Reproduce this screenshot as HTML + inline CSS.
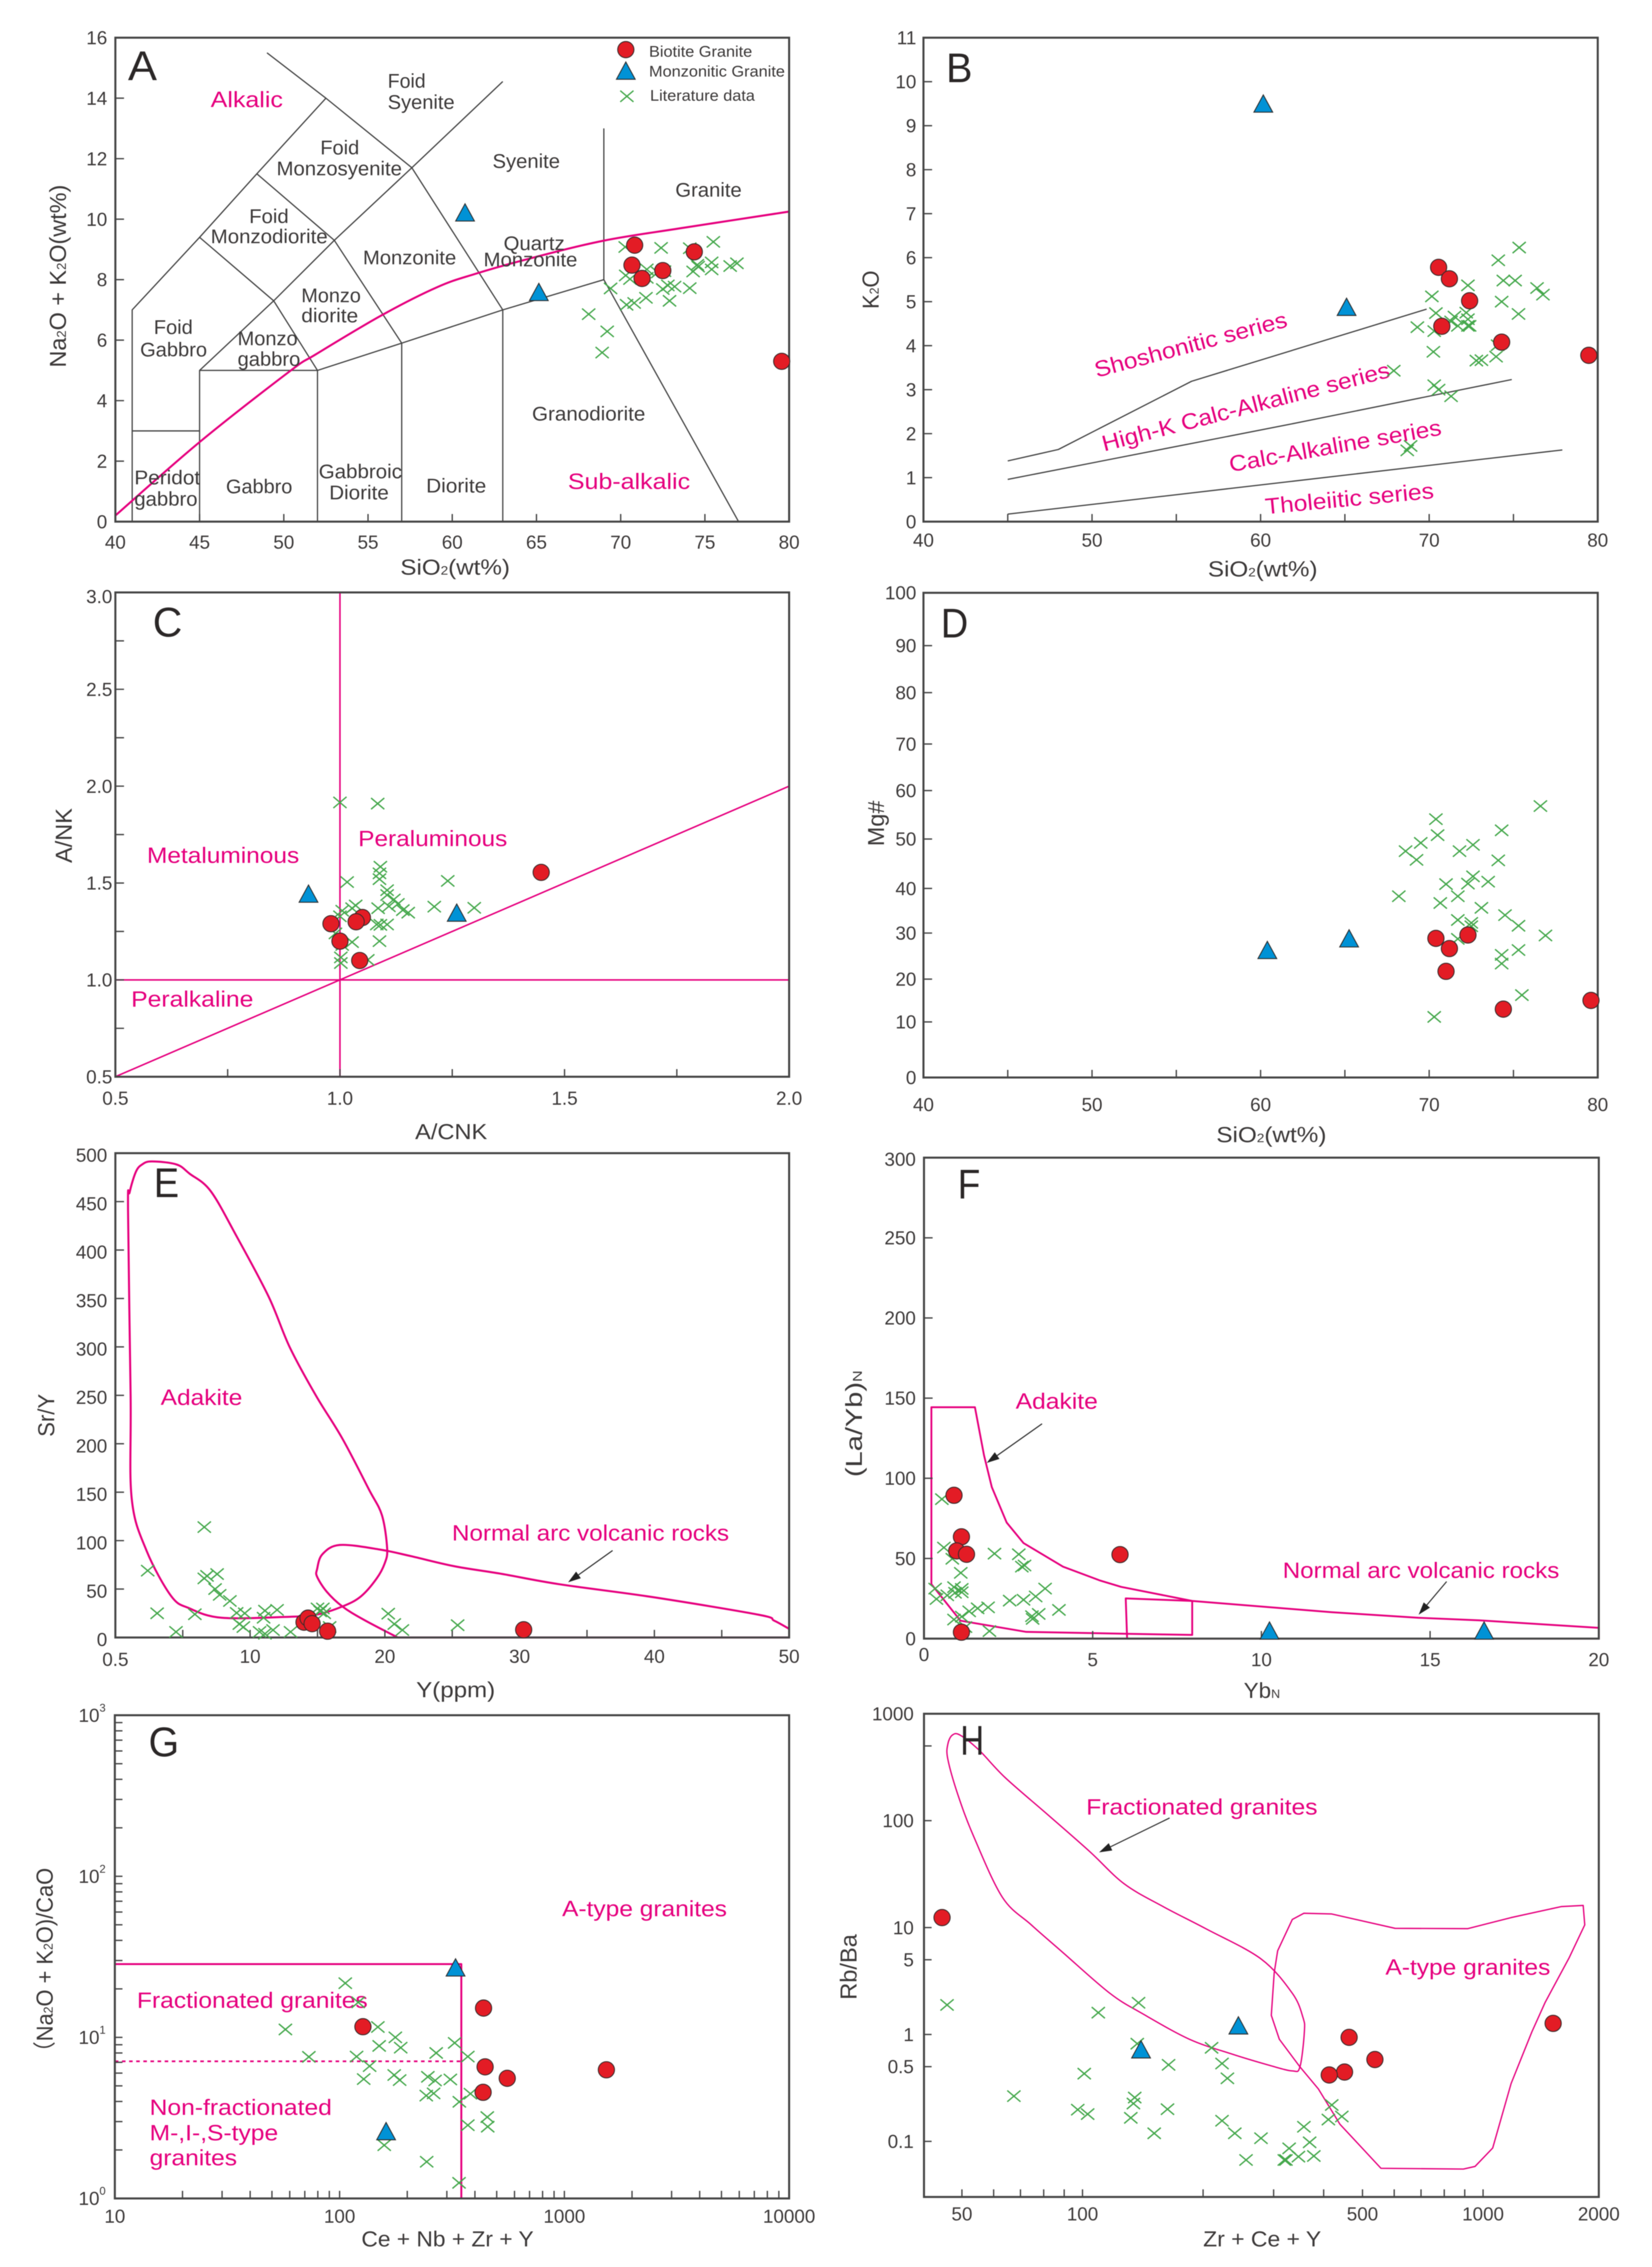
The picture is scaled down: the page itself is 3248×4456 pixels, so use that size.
<!DOCTYPE html>
<html lang="en">
<head>
<meta charset="utf-8">
<title>Granite geochemical discrimination diagrams A-H</title>
<style>
html,body{margin:0;padding:0;background:#fff;}
#figure{display:block;width:3248px;height:4456px;background:#fff;font-family:"Liberation Sans",Arial,sans-serif;filter:blur(0.7px);}
</style>
</head>
<body>
<svg id="figure" xmlns="http://www.w3.org/2000/svg" width="3248" height="4456" viewBox="0 0 3248 4456"></svg>
<script>
/* ---------- Panel A: TAS ---------- */
const aLit=[[70.27,9.08],[72.4,9.05],[74.1,9.04],[75.5,9.25],[74.55,8.49],[75.4,8.57],[75.4,8.34],[76.5,8.45],[76.9,8.54],[74.3,8.27],[74.6,8.43],[71.55,8.34],[72.6,8.28],[72.2,8.24],[70.3,8.14],[70.55,8.02],[71.55,8.06],[69.4,7.71],[72.5,7.69],[72.8,7.81],[73.2,7.77],[74.1,7.72],[70.35,7.17],[70.8,7.23],[71.5,7.4],[72.9,7.3],[68.1,6.86],[69.2,6.29],[68.9,5.59]];
const aBiotite=[[70.83,9.14],[70.67,8.48],[71.27,8.04],[72.5,8.3],[74.37,8.92],[79.56,5.3]];
const aMonzo=[[60.76,10.19],[65.14,7.56]];
const aAlkalineCurve=[[40,0.2],[45,2.63],[50.35,4.97],[51.9,5.53],[55.8,6.82],[59.1,7.75],[61.3,8.18],[64.4,8.67],[69,9.29],[73.8,9.72],[80,10.25]];
const aFields=[[[41,0],[41,7],[45,9.4],[48.4,11.5],[52.5,14],[49,15.5]],[[52.5,14],[57.6,11.7],[63,14.55]],[[41,3],[45,3]],[[45,0],[45,5],[52,5],[57,5.9],[63,7],[69,8],[69,13]],[[52,0],[52,5]],[[57,0],[57,5.9]],[[63,0],[63,7]],[[69,8],[77,0]],[[45,5],[49.4,7.3],[53,9.3],[57.6,11.7],[63,7]],[[49.4,7.3],[52,5]],[[45,9.4],[49.4,7.3]],[[48.4,11.5],[53,9.3],[57,5.9]]];
const aXTicks=[45,50,55,60,65,70,75];
const aXLabels=[40,45,50,55,60,65,70,75,80];
const aYTicks=[2,4,6,8,10,12,14];
const aYLabels=[0,2,4,6,8,10,12,14,16];

/* ---------- Panel B: K2O-SiO2 ---------- */
const bLit=[[75.34,6.23],[74.1,5.94],[72.3,5.37],[74.4,5.48],[75.1,5.48],[76.4,5.31],[76.75,5.16],[70.16,5.12],[74.3,5.0],[75.3,4.72],[70.4,4.74],[71.5,4.66],[72.2,4.75],[72.3,4.6],[71.3,4.55],[71.7,4.45],[72.3,4.45],[72.4,4.45],[69.3,4.42],[70.3,4.33],[70.25,3.86],[74.06,4.01],[73.97,3.75],[72.8,3.66],[73.1,3.67],[67.9,3.43],[70.3,3.1],[70.56,3.0],[71.3,2.85],[68.9,1.72],[68.7,1.62]];
const bBiotite=[[70.56,5.78],[71.2,5.52],[72.4,5.02],[70.75,4.44],[74.3,4.08],[79.47,3.78]];
const bMonzo=[[60.16,9.48],[65.1,4.86]];
const bSeriesLines=[[[45,1.38],[48,1.64],[55.9,3.19],[69.85,4.83]],[[45,0.96],[61.56,2.2],[74.9,3.23]],[[45,0.17],[56.1,0.66],[77.9,1.63]]];
const bXTicks=[45,50,55,60,65,70,75];
const bXLabels=[40,50,60,70,80];
const bYTicks=[1,2,3,4,5,6,7,8,9,10];
const bYLabels=[0,1,2,3,4,5,6,7,8,9,10,11];

/* ---------- Panel C: A/NK-A/CNK ---------- */
const cLit=[[1.0,1.916],[1.084,1.91],[1.016,1.505],[1.09,1.584],[1.088,1.55],[1.088,1.52],[1.105,1.463],[1.105,1.438],[1.24,1.511],[1.12,1.415],[1.109,1.38],[1.129,1.392],[1.085,1.37],[1.035,1.384],[1.027,1.37],[1.005,1.357],[1.14,1.36],[1.152,1.347],[1.21,1.378],[1.299,1.372],[1.0,1.328],[1.082,1.286],[1.105,1.286],[1.09,1.284],[1.088,1.2],[0.99,1.24],[1.027,1.195],[1.005,1.18],[1.002,1.116],[1.002,1.087],[1.062,1.103]];
const cBiotite=[[1.448,1.555],[1.05,1.322],[1.036,1.3],[0.98,1.29],[1.0,1.2],[1.044,1.1]];
const cMonzo=[[0.93,1.44],[1.26,1.342]];
const cDividers=[[[1,0.5],[1,3]],[[0.5,1],[2,1]],[[0.5,0.5],[2,2]]];
const cTicks=[0.75,1,1.25,1.5,1.75];
const cYTicks=[0.75,1,1.25,1.5,1.75,2,2.25,2.5,2.75];
const cXLabels=[0.5,1,1.5,2];
const cYLabels=[0.5,1,1.5,2,2.5,3];

/* ---------- Panel D: Mg#-SiO2 ---------- */
const dLit=[[76.6,56],[70.4,53.3],[74.3,51],[70.5,50],[69.5,48.4],[68.6,46.7],[72.6,48],[71.8,46.7],[69.25,44.9],[74.1,44.8],[72.6,41.5],[73.5,40.4],[72.3,40],[71,39.9],[68.2,37.4],[71.7,37.4],[70.66,36],[73.1,35],[74.5,33.5],[71.7,32.5],[72.5,31.9],[72.5,31.2],[75.3,31.3],[76.9,29.3],[71.7,28.6],[75.3,26.3],[74.3,25.3],[74.3,23.5],[75.5,17],[70.3,12.5]];
const dBiotite=[[70.4,28.7],[72.3,29.4],[71.2,26.6],[71,21.9],[74.4,14.1],[79.6,15.9]];
const dMonzo=[[60.4,26.1],[65.25,28.5]];
const dXTicks=[45,50,55,60,65,70,75];
const dXLabels=[40,50,60,70,80];
const dYTicks=[11.47,20.3,29.8,39,49.2,59.2,68.8,79.4,89.1];
const dYLabelAt=[0,11.47,20.3,29.8,39,49.2,59.2,68.8,79.4,89.1,100];
const dYLabelText=['0','10','20','30','40','50','60','70','80','90','100'];

/* ---------- Panel E: Sr/Y-Y ---------- */
const eLit=[[6.6,114],[2.4,69],[6.8,63.6],[7.55,65.5],[6.6,61],[7.4,50],[7.74,44],[8.5,37.7],[3.1,25],[5.9,24],[4.5,5.8],[9,25.4],[9.6,25],[11.1,27.7],[12,28.5],[11,20.4],[9.2,13.9],[9.5,10.8],[10.7,5.8],[11.7,7.7],[11.1,3.9],[13,5.8],[15,30],[15.4,30],[15.2,27],[15.5,25],[15.9,10.8],[20.25,24.6],[20.7,13.9],[21.3,7.7],[25.4,12.7]];
const eBiotite=[[14,15.8],[14.3,20],[14.6,14.3],[15.75,6.5],[30.3,8]];
const eAdakite=[[2.7,491.5],[4.53,488.4],[5.51,478.8],[7.08,460.7],[9.03,413.3],[11.38,351.7],[12.94,299.7],[14.89,249.6],[16.85,205.3],[18.8,153.3],[19.78,126.3],[20.17,91.7],[19.98,76.3],[19.39,60.9],[18.22,42.4],[16.85,32],[14.89,23.5],[12.55,21.2],[7.86,20.4],[5.51,30],[4.14,42.8],[2.31,89.8],[1.21,143.7],[1.13,249.6],[0.94,442.2],[1.06,459.6],[1.52,480.7],[1.99,488.4]];
const eArcUpper=[[20.95,0],[18.41,18.5],[16.85,32],[15.68,47.4],[14.97,62.8],[14.97,70.5],[15.36,85.9],[16.65,95.5],[19.59,90.9],[21.93,84],[25.14,73.6],[28.58,65.9],[32.88,55.1],[39.91,41.6],[47.73,23.5],[48.9,17.3],[50,8.9]];
const eArcBase=[[50,8.9],[50,0],[20.95,0]];
const eXTicks=[5,10,15,20,25,30,35,40,45];
const eXLabelAt=[0,10,20,30,40,50];
const eXLabelText=['0.5','10','20','30','40','50'];
const eYTicks=[50,100,150,200,250,300,350,400,450];
const eYLabels=[0,50,100,150,200,250,300,350,400,450,500];

/* ---------- Panel F: (La/Yb)N-YbN ---------- */
const fLit=[[0.53,87],[0.59,56.8],[0.84,49.8],[2.09,53],[2.81,52.6],[2.98,45.6],[2.9,44.9],[1.09,41],[0.33,31.2],[0.37,24.7],[0.69,27],[0.89,32.1],[0.92,28.6],[1.12,31],[1.12,28.9],[2.54,23.7],[2.95,24.2],[3.31,26.3],[3.59,31.2],[4,17.9],[3.4,15.4],[3.22,12.3],[3.2,14],[1.9,19.5],[1.59,18.9],[1.34,17],[1.12,13.7],[0.89,11.9],[1.23,7.2],[1.94,4.7]];
const fBiotite=[[0.89,89.4],[1.11,63.5],[0.97,54.7],[1.26,52.6],[5.81,52.4],[1.11,4]];
const fMonzo=[[10.24,4.4],[16.6,4.4]];
const fAdakite=[[0.22,34],[0.22,144.3],[1.51,144.3],[1.78,114.3],[2.01,94.5],[2.45,72.4],[2.95,59.6],[4.12,44.9],[5.21,36.3],[5.84,32.3],[7.95,23.5],[7.95,2.3],[6.07,3],[3.03,4.2],[1.08,11.2]];
const fArc=[[7.95,23.5],[12.08,16.5],[14.66,13],[16.46,11.4],[20,6.7],[20,0],[6.02,0],[5.98,25.1]];
const fXTicks=[5,10,15];
const fXLabels=[0,5,10,15,20];
const fYTicks=[50,100,150,200,250];
const fYLabels=[0,50,100,150,200,250,300];

/* ---------- Panel G: log-log ---------- */
const gLit=[[106,21.7],[121,16.5],[57.4,11.2],[148,11.6],[177,10],[150,8.85],[187,8.63],[269,8.0],[325,9.24],[73,7.57],[119,7.6],[372,7.6],[136,6.63],[128,5.51],[175,5.84],[185,5.43],[247,5.69],[266,5.4],[311,5.48],[243,4.35],[262,4.49],[341,3.98],[382,4.47],[372,2.85],[454,3.2],[456,2.79],[158,2.14],[244,1.69],[340,1.25]];
const gBiotite=[[127,11.65],[437,15.2],[444,6.56],[557,5.57],[435,4.56],[1538,6.29]];
const gMonzo=[[328,26.8],[161,2.58]];
const gBoundary=[[10,28.5],[348,28.5],[348,1]];
const gDotted=[[10,7.1],[348,7.1]];
const gXTicks=[20,30,40,50,60,70,80,90,100,200,300,400,500,600,700,800,900,1000,2000,3000,4000,5000,6000,7000,8000,9000];
const gXLabels=[10,100,1000,10000];
const gYTicks=[2,3,4,5,6,7,8,9,10,20,30,40,50,60,70,80,90,100,200,300,400,500,600,700,800,900];
const gYExponents=[0,1,2,3];

/* ---------- Panel H: log-log ---------- */
const hLit=[[45.9,1.89],[109.5,1.6],[138,1.98],[137,0.82],[101,0.43],[164,0.52],[210,0.75],[223,0.535],[230,0.389],[67.4,0.265],[135,0.257],[134,0.226],[97.3,0.198],[103,0.18],[132,0.166],[163,0.2],[223,0.156],[151,0.119],[240,0.119],[279,0.107],[256,0.067],[328,0.086],[319,0.067],[322,0.067],[346,0.072],[378,0.073],[369,0.098],[357,0.137],[411,0.16],[444,0.171],[419,0.219]];
const hBiotite=[[44.6,12.4],[463,0.94],[537,0.583],[451,0.445],[413,0.418],[1496,1.27]];
const hMonzo=[[245,1.19],[140,0.71]];
const hFractionated=[[47.3,631],[49.5,631],[55.1,459],[64.1,253],[81.6,115],[104,51.8],[127,25.7],[159,15.7],[203,9.77],[279,5.09],[334,2.43],[355,1.45],[358,1.06],[349,0.498],[334,0.456],[291,0.518],[236,0.656],[185,0.902],[141,1.57],[117,2.43],[89.4,5.83],[74.5,10.6],[63.1,19.2],[53.5,71.1],[48.8,177],[46.1,377],[46.1,518]];
const hAType=[[334,11.9],[357,13.6],[419,13.4],[603,9.84],[916,9.77],[1175,12.4],[1567,15.7],[1778,16.1],[1794,10.6],[1639,5.18],[1429,2.0],[1324,1.06],[1175,0.348],[1057,0.0867],[955,0.0583],[893,0.0551],[556,0.056],[439,0.145],[388,0.309],[349,0.498],[310,0.902],[296,1.51],[301,3.77],[307,6.07]];
const hXTicks=[50,60,70,80,90,100,200,300,400,500,600,700,800,900,1000];
const hXLabelAt=[50,100,500,1000,1945];
const hXLabelText=['50','100','500','1000','2000'];
const hYTicks=[0.1,0.5,1,5,10,100,500];
const hYLabels=[0.1,0.5,1,5,10,100,1000];

/* ---------- helpers ---------- */
const svg=document.getElementById('figure');
const NS='http://www.w3.org/2000/svg';
const MAG='#e6007e', DARK='#3d3a3a', AXIS='#454545', GREEN='#45a84c', RED='#e31c25', BLUE='#0092d6';
const KX=1624/1568;

function make(tag,attrs,name,parent){
  const el=document.createElementNS(NS,tag);
  for(const k in attrs){el.setAttribute(k,attrs[k]);}
  
  
  (parent||svg).appendChild(el);
  return el;
}
function linear(d0,d1,r0,r1){return v=>r0+(v-d0)/(d1-d0)*(r1-r0);}
function logScale(d0,d1,r0,r1){const a=Math.log10(d0),b=Math.log10(d1);return v=>r0+(Math.log10(v)-a)/(b-a)*(r1-r0);}

function panel(o){
  const p=Object.assign({},o);
  p.ky=o.ky||1150/1568;
  p.zx=z=>p.ox+z*KX;
  p.zy=z=>p.oy+z*p.ky;
  p.L=p.zx(o.zl);p.R=p.zx(o.zr);p.T=p.zy(o.zt);p.B=p.zy(o.zb);
  const s=o.log?logScale:linear;
  p.x=s(o.xd[0],o.xd[1],p.L,p.R);
  p.y=s(o.yd[0],o.yd[1],p.B,p.T);
  return p;
}
function frame(p){
  make('rect',{x:p.L,y:p.T,width:p.R-p.L,height:p.B-p.T,fill:'none',stroke:AXIS,'stroke-width':4},p.id+'-plot-frame');
}
function ticks(p,xs,ys,lenX,lenY){
  xs.forEach(v=>{
    make('line',{x1:p.x(v),x2:p.x(v),y1:p.B,y2:p.B-(lenX||15),stroke:AXIS,'stroke-width':2.6},p.id+'-x-tick');
  });
  ys.forEach(v=>{
    make('line',{x1:p.L,x2:p.L+(lenY||17),y1:p.y(v),y2:p.y(v),stroke:AXIS,'stroke-width':2.6},p.id+'-y-tick');
  });
}
function xLabel(p,v,txt,dy){
  const t=make('text',{x:p.x(v),y:p.B+dy,'font-size':37,'text-anchor':'middle',fill:DARK},p.id+'-x-tick-label');
  t.textContent=txt;
}
function yLabel(p,v,txt,gap,dy){
  const t=make('text',{x:p.L-gap,y:p.y(v)+(dy==null?13:dy),'font-size':37,'text-anchor':'end',fill:DARK},p.id+'-y-tick-label');
  t.textContent=txt;
}
function segments(el,str,size){
  str.split('_').forEach((part,i)=>{
    if(i%2===0){el.appendChild(document.createTextNode(part));}
    else{
      const ts=document.createElementNS(NS,'tspan');
      ts.setAttribute('font-size',Math.round(size*0.56));
      ts.textContent=part;
      el.appendChild(ts);
    }
  });
}
/* text stretched between two baseline points given in crop coordinates */
function label(p,str,zx1,zy1,zx2,zy2,size,color,name){
  const x1=p.zx(zx1),y1=p.zy(zy1),x2=p.zx(zx2),y2=p.zy(zy2);
  const len=Math.hypot(x2-x1,y2-y1),ang=Math.atan2(y2-y1,x2-x1)*180/Math.PI;
  const t=make('text',{x:x1,y:y1,'font-size':size,fill:color,textLength:len,lengthAdjust:'spacingAndGlyphs'},name);
  if(Math.abs(ang)>0.01){t.setAttribute('transform','rotate('+ang+' '+x1+' '+y1+')');}
  segments(t,str,size);
  return t;
}
function field(p,str,z1,z2,zb){label(p,str,z1,zb,z2,zb,39,DARK,'field-label');}
function note(p,str,z1,z2,zb){label(p,str,z1,zb,z2,zb,44,MAG,'region-label');}
function letter(p,str,z1,z2,zb){label(p,str,z1,zb,z2,zb,82,'#2b2727',p.id+'-letter');}
function xTitle(p,str,z1,z2,zb){label(p,str,z1,zb,z2,zb,43,DARK,p.id+'-x-axis-title');}
function yTitle(p,str,zx,zBottom,zTop){label(p,str,zx,zBottom,zx,zTop,45,DARK,p.id+'-y-axis-title');}

function curve(p,pts,closed,color,w,name,dash){
  const d=pts.map((q,i)=>(i?'L':'M')+p.x(q[0]).toFixed(1)+' '+p.y(q[1]).toFixed(1)).join(' ')+(closed?' Z':'');
  const a={d:d,fill:'none',stroke:color,'stroke-width':w,'stroke-linejoin':'round','stroke-linecap':'butt'};
  if(dash){a['stroke-dasharray']=dash;}
  make('path',a,name);
}
/* Catmull-Rom spline through the data points */
function spline(p,pts,closed,color,w,name){
  const n=pts.length,xy=pts.map(q=>[p.x(q[0]),p.y(q[1])]);
  const at=i=>closed?xy[(i+n)%n]:xy[Math.max(0,Math.min(n-1,i))];
  let d='M'+xy[0][0].toFixed(1)+' '+xy[0][1].toFixed(1);
  const last=closed?n:n-1;
  for(let i=0;i<last;i++){
    const a=at(i-1),b=at(i),c=at(i+1),e=at(i+2);
    d+=' C'+(b[0]+(c[0]-a[0])/6).toFixed(1)+' '+(b[1]+(c[1]-a[1])/6).toFixed(1)+' '+(c[0]-(e[0]-b[0])/6).toFixed(1)+' '+(c[1]-(e[1]-b[1])/6).toFixed(1)+' '+c[0].toFixed(1)+' '+c[1].toFixed(1);
  }
  if(closed){d+=' Z';}
  make('path',{d:d,fill:'none',stroke:color,'stroke-width':w,'stroke-linejoin':'round'},name);
}
function arrow(p,from,to,name){
  const x1=p.x(from[0]),y1=p.y(from[1]),x2=p.x(to[0]),y2=p.y(to[1]);
  const a=Math.atan2(y2-y1,x2-x1),len=25,hw=8;
  const bx=x2-len*Math.cos(a),by=y2-len*Math.sin(a);
  make('line',{x1:x1,y1:y1,x2:bx,y2:by,stroke:'#333','stroke-width':2.2},name);
  const pts=[[x2,y2],[bx-hw*Math.sin(a),by+hw*Math.cos(a)],[bx+hw*Math.sin(a),by-hw*Math.cos(a)]].map(q=>q.join(',')).join(' ');
  make('polygon',{points:pts,fill:'#222'},name+'-head');
}
function crossAt(x,y){
  make('path',{d:'M'+(x-13)+' '+(y-11)+' L'+(x+13)+' '+(y+11)+' M'+(x-13)+' '+(y+11)+' L'+(x+13)+' '+(y-11),fill:'none',stroke:GREEN,'stroke-width':2.7},'literature-data-point');
}
function circleAt(x,y){
  make('circle',{cx:x,cy:y,r:16,fill:RED,stroke:'#3a2a2a','stroke-width':1.8},'biotite-granite-point');
}
function triangleAt(x,y){
  const pts=[[x,y-19],[x+18.5,y+15],[x-18.5,y+15]].map(q=>q.join(',')).join(' ');
  make('polygon',{points:pts,fill:BLUE,stroke:'#2c2c2c','stroke-width':1.8},'monzonitic-granite-point');
}
function series(p,lit,bio,mon){
  lit.forEach(q=>crossAt(p.x(q[0]),p.y(q[1])));
  (mon||[]).forEach(q=>triangleAt(p.x(q[0]),p.y(q[1])));
  (bio||[]).forEach(q=>circleAt(p.x(q[0]),p.y(q[1])));
}

/* ---------- Panel A ---------- */
const pA=panel({id:'panel-a',ox:0,oy:0,zl:219,zr:1498,zt:101,zb:1398,xd:[40,80],yd:[0,16]});
aFields.forEach(f=>curve(pA,f,false,'#444',2.4,'tas-field-boundary'));
spline(pA,aAlkalineCurve,false,MAG,4,'alkaline-subalkaline-curve');
frame(pA);ticks(pA,aXTicks,aYTicks);
aXLabels.forEach(v=>xLabel(pA,v,String(v),53));
aYLabels.forEach(v=>yLabel(pA,v,String(v),16));
[['Foid',736,808,235],['Syenite',736,863,292],['Foid',608,682,414],['Monzosyenite',525,763,470],['Foid',473,548,598],['Monzodiorite',400,622,652],['Syenite',935,1063,450],['Granite',1282,1408,527],['Monzonite',689,866,708],['Quartz',956,1072,670],['Monzonite',918,1096,714],['Monzo',572,685,810],['diorite',572,680,864],['Foid',292,366,895],['Gabbro',266,393,955],['Monzo',451,565,925],['gabbro',451,570,980],['Granodiorite',1010,1225,1127],['Peridot',255,380,1298],['gabbro',255,375,1355],['Gabbro',429,555,1322],['Gabbroic',605,763,1282],['Diorite',625,738,1338],['Diorite',809,923,1320]].forEach(f=>field(pA,f[0],f[1],f[2],f[3]));
note(pA,'Alkalic',400,537,287);note(pA,'Sub-alkalic',1078,1310,1310);
letter(pA,'A',243,298,215);
xTitle(pA,'SiO_2_(wt%)',760,968,1540);
yTitle(pA,'Na_2_O + K_2_O(wt%)',125,985,495);
series(pA,aLit,aBiotite,aMonzo);
circleAt(pA.zx(1188),pA.zy(133));
triangleAt(pA.zx(1188),pA.zy(192));
crossAt(pA.zx(1190),pA.zy(258));
label(pA,'Biotite Granite',1232,152,1428,152,31,DARK,'legend-biotite-granite');
label(pA,'Monzonitic Granite',1232,205,1490,205,31,DARK,'legend-monzonitic-granite');
label(pA,'Literature data',1234,270,1433,270,31,DARK,'legend-literature-data');

/* ---------- Panel B ---------- */
const pB=panel({id:'panel-b',ox:1624,oy:0,zl:185,zr:1465,zt:101,zb:1398,xd:[40,80],yd:[0,11]});
bSeriesLines.forEach(f=>curve(pB,f,false,'#444',2.4,'series-boundary-line'));
frame(pB);ticks(pB,bXTicks,bYTicks);
bXLabels.forEach(v=>xLabel(pB,v,String(v),49));
bYLabels.forEach(v=>yLabel(pB,v,String(v),14));
label(pB,'Shoshonitic series',514,1012,878,875,44,MAG,'shoshonitic-series-label');
label(pB,'High-K Calc-Alkaline series',528,1210,1073,1010,44,MAG,'high-k-calc-alkaline-series-label');
label(pB,'Calc-Alkaline series',768,1265,1170,1165,44,MAG,'calc-alkaline-series-label');
label(pB,'Tholeiitic series',835,1378,1155,1335,44,MAG,'tholeiitic-series-label');
letter(pB,'B',228,278,220);
xTitle(pB,'SiO_2_(wt%)',725,933,1545);
yTitle(pB,'K_2_O',100,828,725);
series(pB,bLit,bBiotite,bMonzo);

/* ---------- Panel C ---------- */
const pC=panel({id:'panel-c',ox:0,oy:1130,zl:219,zr:1498,zt:47,zb:1345,xd:[0.5,2],yd:[0.5,3]});
cDividers.forEach(f=>curve(pC,f,false,MAG,3,'peraluminous-divider-line'));
frame(pC);ticks(pC,cTicks,cYTicks);
cXLabels.forEach(v=>xLabel(pC,v,v.toFixed(1),55));
cYLabels.forEach(v=>yLabel(pC,v,v.toFixed(1),6,v===3?21:13));
note(pC,'Peraluminous',680,963,727);note(pC,'Metaluminous',279,568,772);note(pC,'Peralkaline',249,481,1157);
letter(pC,'C',290,346,165);
xTitle(pC,'A/CNK',788,925,1512);
yTitle(pC,'A/NK',136,772,625);
series(pC,cLit,cBiotite,cMonzo);

/* ---------- Panel D ---------- */
const pD=panel({id:'panel-d',ox:1624,oy:1130,zl:185,zr:1465,zt:48,zb:1347,xd:[40,80],yd:[0,100]});
frame(pD);ticks(pD,dXTicks,dYTicks);
dXLabels.forEach(v=>xLabel(pD,v,String(v),66));
dYLabelAt.forEach((v,i)=>yLabel(pD,v,dYLabelText[i],14));
letter(pD,'D',218,270,168);
xTitle(pD,'SiO_2_(wt%)',741,950,1520);
yTitle(pD,'Mg#',110,727,605);
series(pD,dLit,dBiotite,dMonzo);

/* ---------- Panel E ---------- */
const pE=panel({id:'panel-e',ox:0,oy:2230,zl:219,zr:1498,zt:50,zb:1348,xd:[0,50],yd:[0,500]});
spline(pE,eAdakite,true,MAG,4,'adakite-field-outline');
spline(pE,eArcUpper,false,MAG,4,'normal-arc-field-outline');
curve(pE,eArcBase,false,MAG,4,'normal-arc-field-base');
frame(pE);ticks(pE,eXTicks,eYTicks);
eXLabelAt.forEach((v,i)=>xLabel(pE,v,eXLabelText[i],i===0?56:50));
eYLabels.forEach(v=>yLabel(pE,v,String(v),16,17));
note(pE,'Adakite',305,460,725);note(pE,'Normal arc volcanic rocks',858,1384,1088);
arrow(pE,[36.9,89.8],[33.6,57],'normal-arc-arrow');
letter(pE,'E',292,340,168);
xTitle(pE,'Y(ppm)',790,940,1508);
yTitle(pE,'Sr/Y',103,810,695);
series(pE,eLit,eBiotite,[]);

/* ---------- Panel F ---------- */
const pF=panel({id:'panel-f',ox:1624,oy:2230,zl:186,zr:1467,zt:62,zb:1351,xd:[0,20],yd:[0,300]});
curve(pF,fAdakite,true,MAG,3.6,'adakite-field-outline');
curve(pF,fArc,true,MAG,3.6,'normal-arc-field-outline');
frame(pF);ticks(pF,fXTicks,fYTicks);
fXLabels.forEach(v=>xLabel(pF,v,String(v),v===0?44:54));
fYLabels.forEach(v=>yLabel(pF,v,String(v),16,v===300?16:13));
note(pF,'Adakite',360,516,735);note(pF,'Normal arc volcanic rocks',867,1392,1188);
arrow(pF,[3.5,134],[1.86,109.6],'adakite-arrow');
arrow(pF,[15.49,35.6],[14.66,14.9],'normal-arc-arrow');
letter(pF,'F',250,293,172);
xTitle(pF,'Yb_N_',793,862,1510);
yTitle(pF,'(La/Yb)_N_',68,918,632);
series(pF,fLit,fBiotite,fMonzo);

/* ---------- Panel G ---------- */
const pG=panel({id:'panel-g',ox:0,oy:3320,ky:1136/1568,zl:218,zr:1498,zt:71,zb:1382,xd:[10,10000],yd:[1,1000],log:true});
curve(pG,gBoundary,false,MAG,3.8,'fractionated-granite-boundary');
curve(pG,gDotted,false,MAG,3.4,'non-fractionated-boundary','7 7');
frame(pG);ticks(pG,gXTicks,gYTicks,15,15);
gXLabels.forEach(v=>xLabel(pG,v,String(v),48));
gYExponents.forEach(e=>{
  const t=make('text',{x:pG.L-18,y:pG.y(Math.pow(10,e))+13,'font-size':37,'text-anchor':'end',fill:DARK},'panel-g-y-tick-label');
  t.appendChild(document.createTextNode('10'));
  const s=document.createElementNS(NS,'tspan');
  s.setAttribute('font-size','22');
  s.setAttribute('dy','-20');
  s.textContent=String(e);
  t.appendChild(s);
});
note(pG,'A-type granites',1067,1380,616);note(pG,'Fractionated granites',260,698,865);note(pG,'Non-fractionated',284,630,1155);note(pG,'M-,I-,S-type',284,528,1224);note(pG,'granites',284,450,1292);
letter(pG,'G',282,340,182);
xTitle(pG,'Ce + Nb + Zr + Y',686,1013,1512);
yTitle(pG,'（Na_2_O + K_2_O)/CaO',100,1015,485);
series(pG,gLit,gBiotite,gMonzo);

/* ---------- Panel H ---------- */
const pH=panel({id:'panel-h',ox:1624,oy:3320,ky:1136/1568,zl:186,zr:1467,zt:67,zb:1378,xd:[40.2,1945],yd:[0.0302,1000],log:true});
spline(pH,hFractionated,true,MAG,2.6,'fractionated-granite-field-outline');
curve(pH,hAType,true,MAG,2.6,'a-type-granite-field-outline');
frame(pH);ticks(pH,hXTicks,hYTicks,15,15);
hXLabelAt.forEach((v,i)=>xLabel(pH,v,hXLabelText[i],46));
hYLabels.forEach(v=>yLabel(pH,v,String(v),20));
note(pH,'Fractionated granites',494,933,340);note(pH,'A-type granites',1062,1375,775);
arrow(pH,[165,106],[110,50.5],'fractionated-granite-arrow');
letter(pH,'H',255,300,178);
xTitle(pH,'Zr + Ce + Y',716,940,1512);
yTitle(pH,'Rb/Ba',58,843,665);
series(pH,hLit,hBiotite,hMonzo);
</script>
</body>
</html>
